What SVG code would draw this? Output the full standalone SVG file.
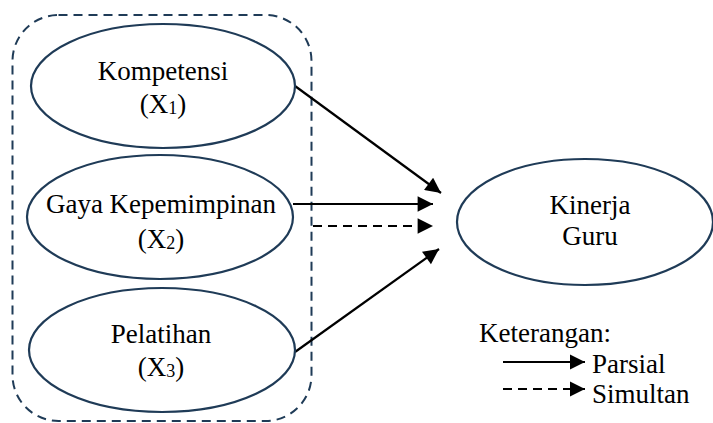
<svg xmlns="http://www.w3.org/2000/svg" width="713" height="423" viewBox="0 0 713 423">
<defs>
<style>
.node{fill:#fff;stroke:#1f3b57;stroke-width:2.2}
.grp{fill:none;stroke:#1f3b57;stroke-width:2;stroke-dasharray:9 6}
.lbl{font-family:"Liberation Serif","Times New Roman",serif;font-size:27px;fill:#000;text-anchor:middle}
.leg{font-family:"Liberation Serif","Times New Roman",serif;font-size:27px;fill:#000}
.sub{font-size:18px}
.c{fill:none;stroke:#000;stroke-width:2.2}
.d{stroke-dasharray:9 6}
</style>
<marker id="ah" viewBox="0 0 10 10" refX="10" refY="5" markerWidth="8" markerHeight="7" markerUnits="strokeWidth" orient="auto">
<path d="M0,0 L10,5 L0,10 z" fill="#000"/>
</marker>
<marker id="ahs" viewBox="0 0 10 10" refX="10" refY="5" markerWidth="7" markerHeight="7" markerUnits="strokeWidth" orient="auto">
<path d="M0,0 L10,5 L0,10 z" fill="#000"/>
</marker>
</defs>
<rect id="group" class="grp" x="12.5" y="15" width="299" height="406" rx="46" ry="46"/>
<g id="connectors">
<line class="c" x1="295" y1="86" x2="441" y2="193" marker-end="url(#ah)"/>
<line class="c" x1="293" y1="204" x2="433" y2="204" marker-end="url(#ah)"/>
<line class="c d" x1="313" y1="226" x2="433" y2="226" marker-end="url(#ah)"/>
<line class="c" x1="295" y1="352" x2="439" y2="249" marker-end="url(#ah)"/>
</g>
<g id="n1">
<ellipse class="node" cx="163" cy="86" rx="132" ry="62"/>
<text class="lbl" x="163" y="80">Kompetensi</text>
<text class="lbl" x="163" y="113">(X<tspan class="sub" dy="1">1</tspan><tspan dy="-1">)</tspan></text>
</g>
<g id="n2">
<ellipse class="node" cx="160" cy="217" rx="133" ry="62"/>
<text class="lbl" x="161" y="213">Gaya Kepemimpinan</text>
<text class="lbl" x="161" y="248">(X<tspan class="sub" dy="1">2</tspan><tspan dy="-1">)</tspan></text>
</g>
<g id="n3">
<ellipse class="node" cx="162" cy="350" rx="133" ry="62"/>
<text class="lbl" x="161" y="343">Pelatihan</text>
<text class="lbl" x="161" y="376">(X<tspan class="sub" dy="1">3</tspan><tspan dy="-1">)</tspan></text>
</g>
<g id="y">
<ellipse class="node" cx="585" cy="222" rx="128" ry="63"/>
<text class="lbl" x="590" y="214">Kinerja</text>
<text class="lbl" x="590" y="245">Guru</text>
</g>
<g id="legend">
<text class="leg" x="479" y="342">Keterangan:</text>
<line class="c" x1="503" y1="362" x2="585" y2="362" marker-end="url(#ahs)"/>
<text class="leg" x="592" y="373">Parsial</text>
<line class="c d" x1="503" y1="389" x2="585" y2="389" marker-end="url(#ahs)"/>
<text class="leg" x="592" y="403">Simultan</text>
</g>
</svg>
